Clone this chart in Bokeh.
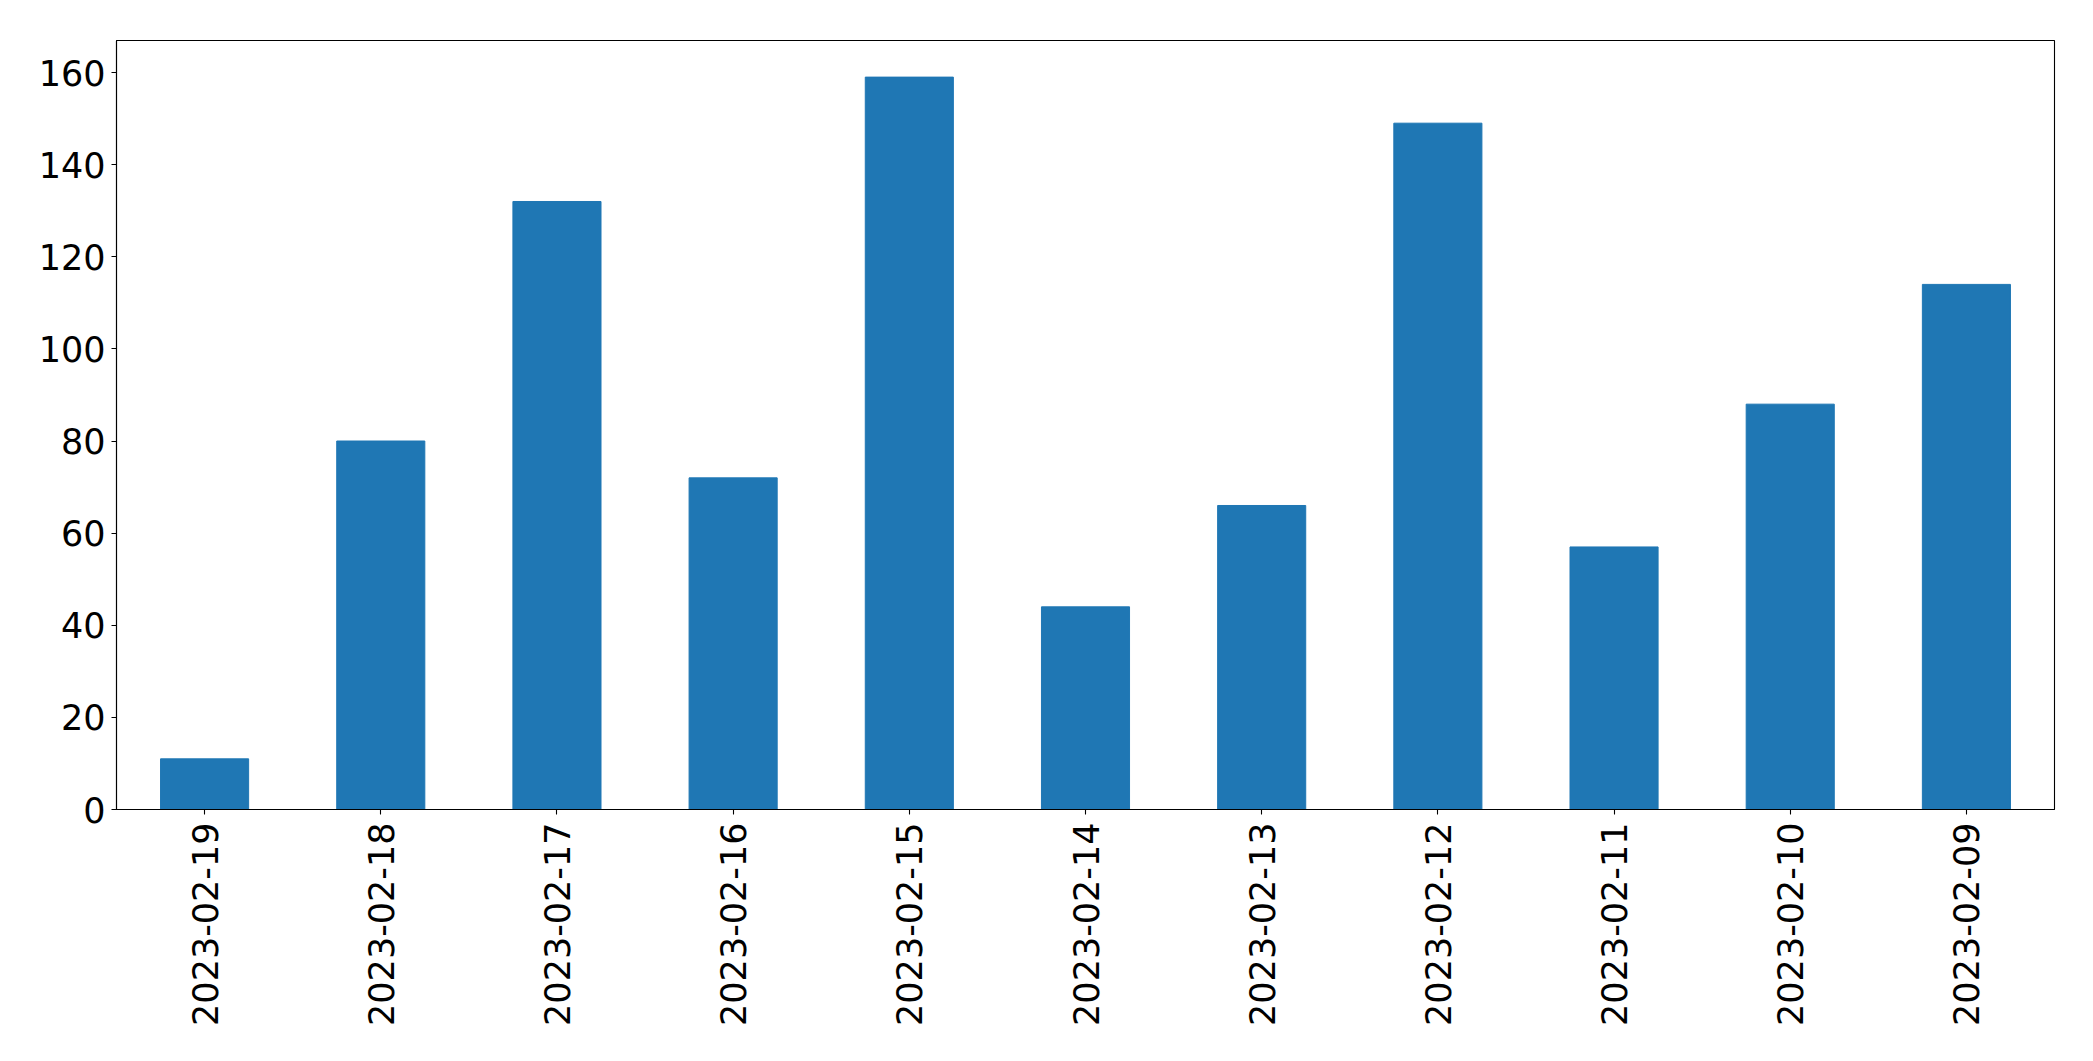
import math
from bokeh.plotting import figure
from bokeh.models import FactorRange, Range1d, SingleIntervalTicker, ColumnDataSource
from bokeh.embed import file_html
from bokeh.resources import INLINE

dates = ["2023-02-19", "2023-02-18", "2023-02-17", "2023-02-16", "2023-02-15",
         "2023-02-14", "2023-02-13", "2023-02-12", "2023-02-11", "2023-02-10",
         "2023-02-09"]
counts = [11, 80, 132, 72, 159, 44, 66, 149, 57, 88, 114]

src = ColumnDataSource(dict(date=dates, count=counts))

p = figure(x_range=FactorRange(*dates), y_range=Range1d(0, max(counts) * 1.05),
           width=2077, height=1045, output_backend="svg", toolbar_location=None,
           min_border_left=116, min_border_right=23, min_border_top=40,
           min_border_bottom=236)

p.vbar(x="date", top="count", width=0.5, source=src, color="#1f77b4")

p.xgrid.visible = False
p.ygrid.visible = False
p.outline_line_color = "black"
p.outline_line_alpha = 1
p.outline_line_width = 1.1
p.background_fill_color = "white"
p.border_fill_color = "white"

for ax in (p.xaxis[0], p.yaxis[0]):
    ax.axis_line_color = "black"
    ax.axis_line_width = 1.1
    ax.major_tick_line_color = "black"
    ax.major_tick_line_width = 1.1
    ax.major_tick_out = 5
    ax.major_tick_in = 0
    ax.minor_tick_line_color = None
    ax.major_label_text_font = "DejaVu Sans"
    ax.major_label_text_font_size = "35px"
    ax.major_label_text_color = "black"

p.yaxis[0].ticker = SingleIntervalTicker(interval=20)
p.yaxis[0].major_label_standoff = 6
p.xaxis[0].major_label_orientation = math.pi / 2
p.xaxis[0].major_label_standoff = 8

open("out.html", "w").write(file_html(p, INLINE))
